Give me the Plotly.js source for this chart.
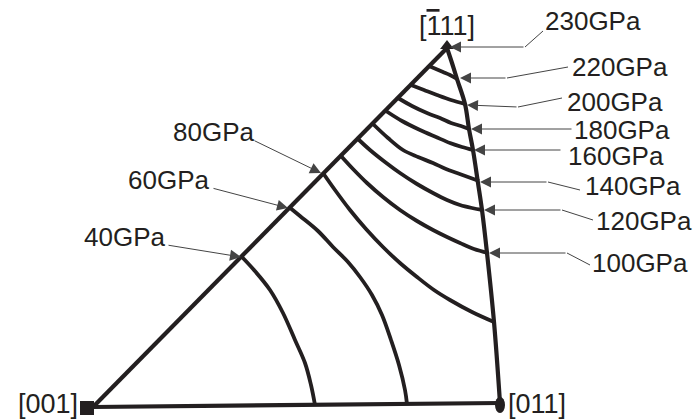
<!DOCTYPE html>
<html>
<head>
<meta charset="utf-8">
<script src="https://cdn.plot.ly/plotly-3.0.1.min.js"></script>
<style>
  html, body { margin: 0; padding: 0; background: #fff; }
  #myDiv { width: 693px; height: 419px; }
</style>
</head>
<body>
<div id="myDiv"></div>
<script>
// corners of the stereographic triangle: [001], [011], [-111]
var cornerNames = ["[001]", "[011]", "[<span style=\"text-decoration:overline\">1</span>11]"];
var cornerX = [93, 500, 447];
var cornerY = [407, 403, 48];

// curved edge [-111] -> [011]
var rightEdgeX = [447, 452, 457, 465, 469, 473, 478, 482, 487, 494, 500];
var rightEdgeY = [48, 63, 79, 104, 129, 150, 183, 210, 253, 322, 403];

// Young's modulus contour lines (GPa)
var levels = [40, 60, 80, 100, 120, 140, 160, 180, 200, 220, 230];

var c40X = [241, 254, 270, 283, 295, 305, 311, 315];
var c40Y = [256, 270, 290, 313, 340, 363, 385, 405];
var c60X = [289, 300, 318, 333, 348, 360, 372, 382, 391, 399, 405, 407];
var c60Y = [207, 216, 231, 247, 262, 277, 295, 315, 340, 365, 390, 404];
var c80X = [323, 335, 350, 366, 383, 400, 417, 434, 450, 472, 494];
var c80Y = [173, 190, 210, 229, 247, 263, 277, 290, 300, 312, 322];
var c100X = [341, 353, 367, 383, 400, 417, 433, 447, 460, 474, 488];
var c100Y = [156, 169, 183, 197, 210, 221, 230, 237, 243, 249, 253];
var c120X = [358, 370, 385, 400, 417, 433, 447, 460, 472, 483];
var c120Y = [139, 150, 162, 173, 184, 193, 200, 205, 208, 210];
var c140X = [373, 388, 403, 418, 433, 446, 457, 468, 479];
var c140Y = [124, 138, 150, 157, 163, 169, 173, 177, 181];
var c160X = [386, 402, 420, 436, 450, 462, 473];
var c160Y = [111, 121, 130, 137, 143, 147, 150];
var c180X = [398, 412, 427, 440, 451, 461, 469];
var c180Y = [98, 106, 113, 118, 123, 126, 129];
var c200X = [411, 424, 437, 451, 465];
var c200Y = [85, 90, 95, 100, 104];
var c220X = [429, 436, 443, 450, 457];
var c220Y = [66, 69, 72, 75, 79];

// label text, leader start (near text), bend, and arrow target
var labelText = ["40GPa", "60GPa", "80GPa", "100GPa", "120GPa", "140GPa",
                 "160GPa", "180GPa", "200GPa", "220GPa", "230GPa"];
var labelX = [83, 127, 172, 591, 595, 584, 567, 573, 566, 571, 544];
var labelY = [237, 180, 132, 263, 221, 186, 156, 130, 102, 67, 21];
var leadStartX = [167, 212, 253, 590, 593, 580, 562, 573, 562, 568, 543];
var leadStartY = [245, 188, 140, 265, 220, 190, 150, 129, 98, 67, 31];
var bendX = [167, 212, 253, 567, 562, 548, 562, 573, 518, 507, 525];
var bendY = [245, 188, 140, 253, 210, 182, 150, 129, 107, 78, 47];
var targetX = [241, 288, 321, 489, 484, 480, 474, 471, 467, 460, 450];
var targetY = [257, 208, 173, 253, 210, 182, 150, 129, 105, 78, 47];

var ink = "#231f20";
var leadColor = "#444444";
var fontFam = "Liberation Sans, Arial, sans-serif";

var curvesX = [c40X, c60X, c80X, c100X, c120X, c140X, c160X, c180X, c200X, c220X];
var curvesY = [c40Y, c60Y, c80Y, c100Y, c120Y, c140Y, c160Y, c180Y, c200Y, c220Y];

var data = [];

// triangle edges
data.push({
  x: [cornerX[0], cornerX[2]], y: [cornerY[0], cornerY[2]],
  mode: "lines", line: {color: ink, width: 4.2}, hoverinfo: "skip"
});
data.push({
  x: [cornerX[0], cornerX[1]], y: [cornerY[0], cornerY[1]],
  mode: "lines", line: {color: ink, width: 4.2}, hoverinfo: "skip"
});
data.push({
  x: rightEdgeX, y: rightEdgeY,
  mode: "lines", line: {color: ink, width: 4.2, shape: "spline"}, hoverinfo: "skip"
});

curvesX.forEach(function(cx, i) {
  data.push({
    x: cx, y: curvesY[i], name: levels[i] + "GPa",
    mode: "lines", line: {color: ink, width: 3.8, shape: "spline"}
  });
});

// leader lines from text to bend
labelText.forEach(function(t, i) {
  if (leadStartX[i] === bendX[i] && leadStartY[i] === bendY[i]) return;
  data.push({
    x: [leadStartX[i], bendX[i]], y: [leadStartY[i], bendY[i]],
    mode: "lines", line: {color: leadColor, width: 1}, hoverinfo: "skip"
  });
});

// corner markers
data.push({
  x: [cornerX[0] - 6], y: [cornerY[0] + 1],
  mode: "markers", marker: {symbol: "square", size: 14, color: ink}, hoverinfo: "skip"
});
data.push({
  x: [cornerX[2]], y: [cornerY[2] - 2],
  mode: "markers", marker: {symbol: "triangle-up", size: 12, color: ink}, hoverinfo: "skip"
});

var annotations = [];
labelText.forEach(function(t, i) {
  annotations.push({
    x: targetX[i], y: targetY[i], ax: bendX[i], ay: bendY[i],
    xref: "x", yref: "y", axref: "x", ayref: "y",
    text: "", showarrow: true, arrowhead: 2, arrowsize: 2.2,
    arrowwidth: 1, arrowcolor: leadColor
  });
  annotations.push({
    x: labelX[i], y: labelY[i], xref: "x", yref: "y",
    text: t, showarrow: false, xanchor: "left", yanchor: "middle", borderpad: 0,
    font: {family: fontFam, size: 26, color: ink}
  });
});

// corner labels
annotations.push({
  x: cornerX[0] - 14, y: cornerY[0] - 3, xref: "x", yref: "y",
  text: cornerNames[0], showarrow: false, xanchor: "right", yanchor: "middle", borderpad: 0,
  font: {family: fontFam, size: 27, color: ink}
});
annotations.push({
  x: cornerX[1] + 7, y: cornerY[1] + 1, xref: "x", yref: "y",
  text: cornerNames[1], showarrow: false, xanchor: "left", yanchor: "middle", borderpad: 0,
  font: {family: fontFam, size: 27, color: ink}
});
annotations.push({
  x: cornerX[2], y: cornerY[2] - 22, xref: "x", yref: "y",
  text: cornerNames[2], showarrow: false, xanchor: "center", yanchor: "middle", borderpad: 0,
  font: {family: fontFam, size: 27, color: ink}
});

var layout = {
  width: 693,
  height: 419,
  margin: {l: 0, r: 0, t: 0, b: 0},
  paper_bgcolor: "#ffffff",
  plot_bgcolor: "#ffffff",
  showlegend: false,
  xaxis: {range: [0, 693], visible: false, fixedrange: true},
  yaxis: {range: [419, 0], visible: false, fixedrange: true},
  shapes: [{
    type: "circle", xref: "x", yref: "y",
    x0: cornerX[1] - 5, x1: cornerX[1] + 5,
    y0: cornerY[1] - 6, y1: cornerY[1] + 10,
    fillcolor: ink, line: {color: ink, width: 0}
  }],
  annotations: annotations
};

Plotly.newPlot("myDiv", data, layout, {displayModeBar: false, staticPlot: true});
</script>
</body>
</html>
